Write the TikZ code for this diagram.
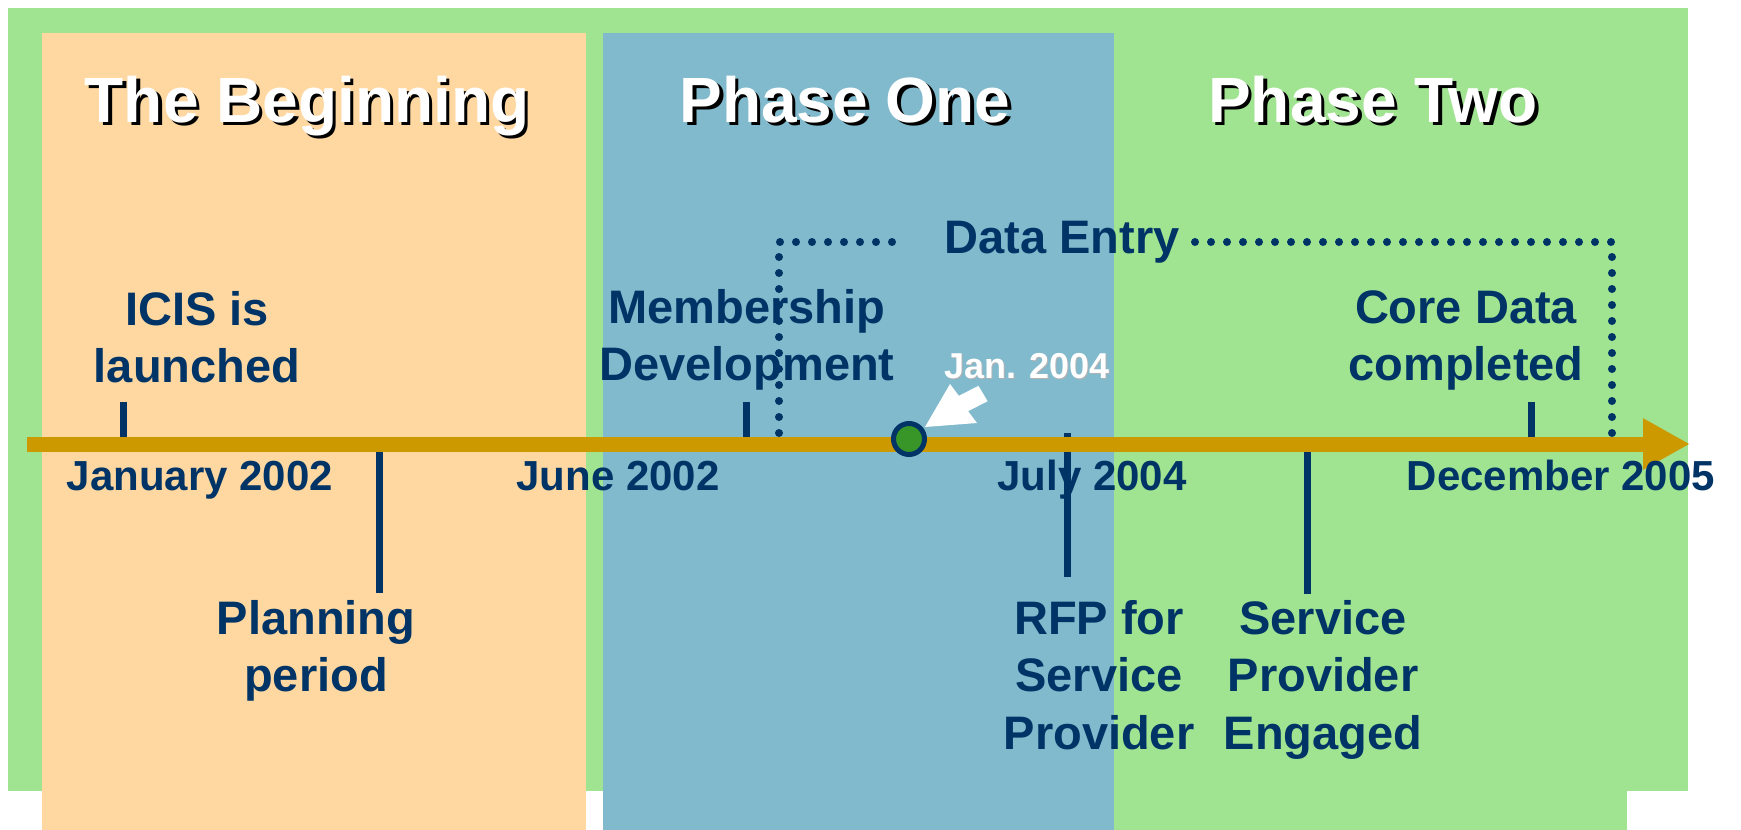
\documentclass[tikz,border=0pt]{standalone}
\usepackage{fontspec}
\setmainfont{Liberation Sans}
\usetikzlibrary{arrows.meta}
\definecolor{bggreen}{RGB}{160,227,145}
\definecolor{begorange}{RGB}{254,216,160}
\definecolor{oneblue}{RGB}{128,186,204}
\definecolor{axisgold}{RGB}{204,153,0}
\definecolor{navy}{RGB}{0,51,102}
\definecolor{dotgreen}{RGB}{56,150,40}
\newcommand{\mlines}[1]{\begin{tabular}[t]{@{}c@{}}#1\end{tabular}}
\begin{document}
\begin{tikzpicture}[x=0.5pt,y=-0.5pt,
  titletxt/.style={font=\fontsize{32}{38}\selectfont\bfseries, text=white, inner sep=0pt, anchor=base},
  titleshadow/.style={font=\fontsize{32}{38}\selectfont\bfseries, text=black, inner sep=0pt, anchor=base},
  lbl/.style={font=\fontsize{23.5}{28.75}\selectfont\bfseries, text=navy, inner sep=0pt, anchor=base},
  datelbl/.style={font=\fontsize{21}{25}\selectfont\bfseries, text=navy, inner sep=0pt, anchor=base},
  tickline/.style={draw=navy, line width=3.5pt},
  dotline/.style={draw=navy, line width=4pt, line cap=round, dash pattern=on 0pt off 8pt}]
\useasboundingbox (0,0) rectangle (1741,830);
% panels
\fill[bggreen] (8,8) rectangle (1688,791);
\fill[begorange] (42,33) rectangle (586,830);
\fill[oneblue] (603,33) rectangle (1114,830);
\fill[bggreen] (1114,33) rectangle (1627,830);
% titles
\node[titleshadow] (t1s) at (310.5,125.5) {The Beginning};
\node[titletxt] (t1) at (307,122) {The Beginning};
\node[titleshadow] (t2s) at (848.5,125.5) {Phase One};
\node[titletxt] (t2) at (845,122) {Phase One};
\node[titleshadow] (t3s) at (1376.5,125.5) {Phase Two};
\node[titletxt] (t3) at (1373,122) {Phase Two};
% coordinates on axis
\coordinate (a0) at (27,444);
\coordinate (a1) at (1690,444);
% ticks
\coordinate (k1a) at (123,402); \coordinate (k1b) at (123,437);
\coordinate (k2a) at (379,450); \coordinate (k2b) at (379,593);
\coordinate (k3a) at (746,402); \coordinate (k3b) at (746,437);
\coordinate (k4a) at (1067,433); \coordinate (k4b) at (1067,577);
\coordinate (k5a) at (1307,450); \coordinate (k5b) at (1307,594);
\coordinate (k6a) at (1531,402); \coordinate (k6b) at (1531,437);
\foreach \k in {1,...,6} {\draw[tickline] (k\k a) -- (k\k b);}
% data entry bracket
\node[lbl] (de) at (1062,253) {Data Entry};
\coordinate (dl0) at (779,433);
\coordinate (dl1) at (779,242);
\coordinate (dl2) at (892,242);
\coordinate (dr0) at (1195,242);
\coordinate (dr1) at (1612,242);
\coordinate (dr2) at (1612,433);
\draw[dotline] (dl0) -- (dl1) -- (dl2);
\draw[dotline] (dr0) -- (dr1) -- (dr2);
% axis
\draw[axisgold, line width=7.5pt, -{Triangle[length=23.5pt,width=24pt]}] (a0) -- (a1);
% labels
\node[lbl] (icis) at (197,325) {\mlines{ICIS is\\launched}};
\node[lbl] (memb) at (747,323) {\mlines{Membership\\Development}};
\node[lbl] (core) at (1466,323) {\mlines{Core Data\\completed}};
\node[lbl] (plan) at (316,634) {\mlines{Planning\\period}};
\node[lbl] (rfp) at (1099,634) {\mlines{RFP for\\Service\\Provider}};
\node[lbl] (spe) at (1323,634) {\mlines{Service\\Provider\\Engaged}};
% dates
\node[datelbl] (d1) at (200,490) {January 2002};
\node[datelbl] (d2) at (618,490) {June 2002};
\node[datelbl] (d3) at (1092,490) {July 2004};
\node[datelbl] (d4) at (1561,490) {December 2005};
% milestone circle
\node[circle, fill=dotgreen, draw=navy, line width=2.5pt, minimum size=15.5pt, inner sep=0pt] (ms) at (909,439) {};
% white block arrow
\fill[white] (925,427) -- (950,384) -- (958.9,395.8) -- (978.4,385.8) -- (987.6,401.2) -- (968.1,411.2) -- (977,423) -- cycle;
\node[font=\fontsize{18}{21}\selectfont\bfseries, text=gray!60, inner sep=0pt, anchor=base] (js) at (1028,379) {Jan. 2004};
\node[font=\fontsize{18}{21}\selectfont\bfseries, text=white, inner sep=0pt, anchor=base] (jan) at (1027,378) {Jan. 2004};
\end{tikzpicture}
\end{document}
